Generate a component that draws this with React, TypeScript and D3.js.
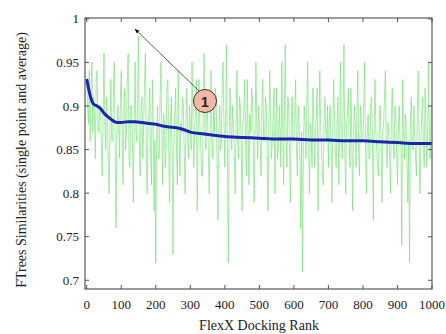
import React from "react";
import * as d3 from "d3";

const xTicks = [0, 100, 200, 300, 400, 500, 600, 700, 800, 900, 1000];
const yTicks = [0.7, 0.75, 0.8, 0.85, 0.9, 0.95, 1];
const yTickLabels = ["0.7", "0.75", "0.8", "0.85", "0.9", "0.95", "1"];

const singleStep = 2.5;
const singleValues = [
  0.93,0.90,0.88,0.94,0.86,0.92,0.95,0.87,0.91,0.89,0.84,0.93,0.94,0.88,0.87,0.90,0.90,0.85,0.82,0.89,
  0.96,0.88,0.85,0.91,0.89,0.83,0.80,0.88,0.93,0.86,0.86,0.92,0.95,0.84,0.76,0.87,0.90,0.88,0.84,0.91,
  0.94,0.87,0.81,0.89,0.92,0.85,0.87,0.93,0.96,0.84,0.83,0.90,0.90,0.86,0.79,0.88,0.95,0.87,0.86,0.91,
  0.98,0.85,0.82,0.90,0.91,0.84,0.88,0.93,0.96,0.85,0.80,0.87,0.89,0.92,0.85,0.81,0.93,0.88,0.78,0.86,
  0.72,0.86,0.90,0.84,0.84,0.91,0.95,0.87,0.81,0.89,0.88,0.83,0.86,0.92,0.93,0.85,0.79,0.88,0.91,0.84,
  0.73,0.86,0.89,0.92,0.85,0.81,0.94,0.87,0.82,0.88,0.87,0.91,0.90,0.84,0.80,0.89,0.92,0.86,0.84,0.90,
  0.88,0.85,0.95,0.89,0.83,0.87,0.90,0.93,0.78,0.86,0.93,0.88,0.86,0.82,0.82,0.89,0.96,0.87,0.85,0.91,
  0.89,0.84,0.80,0.88,0.94,0.86,0.84,0.90,0.87,0.92,0.91,0.83,0.77,0.87,0.90,0.85,0.86,0.93,0.95,0.88,
  0.83,0.89,0.97,0.84,0.72,0.86,0.92,0.88,0.85,0.90,0.88,0.84,0.80,0.87,0.94,0.86,0.84,0.91,0.90,0.85,
  0.78,0.88,0.89,0.93,0.86,0.82,0.93,0.87,0.81,0.89,0.87,0.92,0.91,0.85,0.79,0.87,0.95,0.88,0.84,0.90,
  0.88,0.85,0.82,0.90,0.93,0.86,0.86,0.91,0.90,0.84,0.78,0.87,0.94,0.89,0.84,0.86,0.89,0.92,0.80,0.87,
  0.92,0.84,0.85,0.90,0.87,0.83,0.95,0.88,0.81,0.89,0.97,0.86,0.83,0.91,0.90,0.85,0.79,0.88,0.91,0.86,
  0.86,0.89,0.93,0.85,0.82,0.90,0.88,0.84,0.76,0.87,0.71,0.85,0.90,0.88,0.84,0.91,0.95,0.86,0.80,0.88,
  0.87,0.83,0.92,0.89,0.83,0.87,0.89,0.92,0.78,0.86,0.94,0.88,0.85,0.82,0.81,0.89,0.91,0.87,0.86,0.90,
  0.83,0.88,0.90,0.85,0.79,0.87,0.93,0.89,0.85,0.83,0.88,0.91,0.81,0.87,0.95,0.86,0.84,0.90,0.97,0.85,
  0.80,0.88,0.89,0.92,0.86,0.83,0.92,0.87,0.78,0.86,0.90,0.88,0.83,0.89,0.94,0.85,0.82,0.90,0.88,0.86,
  0.86,0.90,0.95,0.85,0.80,0.87,0.89,0.84,0.84,0.90,0.91,0.86,0.77,0.88,0.93,0.87,0.85,0.83,0.82,0.89,
  0.90,0.85,0.79,0.87,0.88,0.91,0.94,0.86,0.83,0.88,0.87,0.84,0.80,0.89,0.92,0.86,0.84,0.90,0.89,0.85,
  0.81,0.87,0.90,0.86,0.86,0.74,0.93,0.88,0.84,0.89,0.88,0.83,0.79,0.86,0.72,0.88,0.91,0.86,0.85,0.90,
  0.87,0.84,0.82,0.89,0.94,0.87,0.80,0.85,0.89,0.91,0.86,0.83,0.92,0.88,0.83,0.87,0.95,0.86,0.84,0.90,
];

const avgRanks = [0, 10, 20, 30, 40, 50, 60, 70, 80, 90, 100, 120, 140, 160, 180, 200, 220, 240, 260, 280, 300, 340, 380, 400, 450, 500, 550, 600, 650, 700, 750, 800, 850, 900, 950, 1000];
const avgValues = [0.931, 0.912, 0.902, 0.900, 0.897, 0.892, 0.888, 0.885, 0.882, 0.881, 0.881, 0.882, 0.882, 0.881, 0.880, 0.879, 0.877, 0.876, 0.875, 0.873, 0.870, 0.868, 0.866, 0.865, 0.864, 0.863, 0.862, 0.862, 0.861, 0.861, 0.860, 0.860, 0.859, 0.858, 0.857, 0.857];

export default function App() {
  const W = 446, H = 334;
  const x = d3.scaleLinear().domain([-5, 1000]).range([85, 432]);
  const y = d3.scaleLinear().domain([0.69, 1.001]).range([289, 18]);
  const serif = "'Liberation Serif', 'DejaVu Serif', serif";

  const green = d3.line<number>()
    .x((_, i) => x(i * singleStep))
    .y((d) => y(d))(singleValues) || "";
  const blue = d3.line<number>()
    .x((_, i) => x(avgRanks[i]))
    .y((d) => y(d))
    .curve(d3.curveMonotoneX)(avgValues) || "";

  const x0 = x.range()[0], x1 = x.range()[1];
  const y0 = y.range()[0], y1 = y.range()[1];

  return (
    <svg width={W} height={H} style={{ position: "absolute", left: 0, top: 0 }}>
      <rect width={W} height={H} fill="#fff" />
      <defs>
        <marker id="ah" viewBox="0 0 10 10" refX="9" refY="5" markerWidth="6" markerHeight="6" orient="auto-start-reverse">
          <path d="M0,1 L10,5 L0,9 z" fill="#111" />
        </marker>
      </defs>
      <path d={green} fill="none" stroke="#6fe06f" strokeWidth={0.9} strokeOpacity={0.7} />
      {singleValues.map((v, i) => (
        <circle key={i} cx={x(i * singleStep)} cy={y(v)} r={0.8} fill="#a6dca6" opacity={0.6} />
      ))}
      <path d={blue} fill="none" stroke="#1b24b0" strokeWidth={3} strokeLinejoin="round" />
      <rect x={x0} y={y1} width={x1 - x0} height={y0 - y1} fill="none" stroke="#666" strokeWidth={1.3} />
      {xTicks.map((t) => (
        <g key={"x" + t}>
          <line x1={x(t)} x2={x(t)} y1={y0} y2={y0 - 4} stroke="#555" />
          <line x1={x(t)} x2={x(t)} y1={y1} y2={y1 + 4} stroke="#555" />
          <text x={x(t)} y={309} textAnchor="middle" fontFamily={serif} fontSize={13} fill="#222">{t}</text>
        </g>
      ))}
      {yTicks.map((t, i) => (
        <g key={"y" + t}>
          <line x1={x0} x2={x0 + 4} y1={y(t)} y2={y(t)} stroke="#555" />
          <line x1={x1} x2={x1 - 4} y1={y(t)} y2={y(t)} stroke="#555" />
          <text x={79} y={y(t) + 4.5} textAnchor="end" fontFamily={serif} fontSize={13} fill="#222">{yTickLabels[i]}</text>
        </g>
      ))}
      <text x={259} y={330} textAnchor="middle" fontFamily={serif} fontSize={14} fill="#222">FlexX Docking Rank</text>
      <text transform="translate(26,160) rotate(-90)" textAnchor="middle" fontFamily={serif} fontSize={14} fill="#222">FTrees Similarities (single point and average)</text>
      <line x1={199} y1={91} x2={135} y2={29} stroke="#333" strokeWidth={0.8} markerEnd="url(#ah)" />
      <circle cx={205} cy={101} r={11.5} fill="#f4b8a4" stroke="#333" strokeWidth={1} />
      <text x={205} y={106.5} textAnchor="middle" fontFamily="'Liberation Sans', Arial, sans-serif" fontWeight="bold" fontSize={14} fill="#222">1</text>
    </svg>
  );
}
